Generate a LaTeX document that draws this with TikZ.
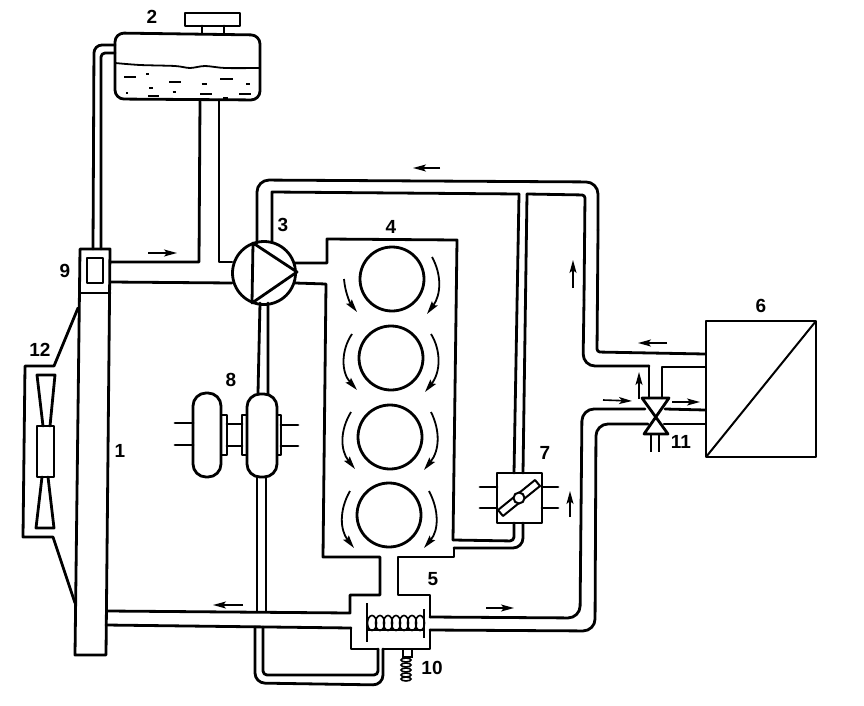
\documentclass[tikz,border=0pt]{standalone}
\usepackage{fontspec}
\setmainfont{Liberation Sans}
\usetikzlibrary{arrows.meta}
\tikzset{
  ln/.style={line width=2.8pt,line join=round,line cap=round},
  thin ln/.style={line width=2pt,line join=miter},
  flow/.style={line width=1.6pt,-{Stealth[length=13pt,width=7pt,inset=3pt]}},
  swirl/.style={line width=1.8pt,-{Stealth[length=13pt,width=7pt,inset=2pt]}},
  dashw/.style={line width=1.8pt},
  lbl/.style={font=\bfseries\fontsize{19}{19}\selectfont,inner sep=0pt}
}
\begin{document}
\begin{tikzpicture}[x=1pt,y=-1pt]
\useasboundingbox (0,0) rectangle (864,706);
% tank
\draw[ln,rounded corners=9pt] (115,33) -- (260,35) -- (260,100) -- (115,99) -- cycle;
\draw[ln] (185,13) rectangle (240,26);
\draw[ln] (202,26) -- (202,33) (224,26) -- (224,34);
\draw[line width=1.8pt] plot[smooth] coordinates {(115,63) (140,65) (175,66) (190,68) (205,66) (225,68) (260,68)};
\foreach \a/\b/\c in {192/228/232,258/268/222,328/362/245,425/440/252,480/518/237,558/570/252,268/278/263,198/205/278,265/297/287,338/348/276,420/455/281,490/503/294,538/572/281}
  \draw[dashw] ({60+\a/3},{\c/3}) -- ({60+\b/3},{\c/3});
% pipe tank to 9
\draw[ln,rounded corners=8pt] (93,249) -- (94,45) -- (115,45);
\draw[ln,rounded corners=4pt] (101,249) -- (101,53) -- (115,53);
% tank to pump and radiator outlet
\draw[ln] (200,100) -- (199,262) -- (110,262);
\draw[ln] (219,100) -- (219,262) -- (232,262);
\draw[ln] (110,282) -- (232,283);
% radiator and sensor 9
\draw[ln] (80,249) -- (110,249) -- (106,655) -- (75,655) -- cycle;
\draw[ln] (80,293) -- (110,293);
\draw[ln] (87,258) rectangle (103,283);
% pump
\node[circle,draw,line width=2.8pt,minimum size=63pt,inner sep=0pt] (pump) at (264,273) {};
\draw[ln] (253,243) -- (297,272) -- (252,303) -- cycle;
% top return pipe
\draw[ln,rounded corners=12pt] (257,243) -- (257,180) -- (598,182) -- (598,230);
\draw[ln,rounded corners=3pt] (598,230) -- (597,352) -- (705,354);
\draw[ln] (272,242) -- (272,192) -- (519,194);
\draw[ln,rounded corners=3pt] (527,194) -- (585,195) -- (584,300);
\draw[ln,rounded corners=12pt] (584,300) -- (583,366) -- (649,366);
\draw[ln] (649,366) -- (649,398) (662,398) -- (662,367) -- (705,367);
\draw[ln] (519,194) -- (514,473) (527,194) -- (523,473);
% valve 11
\draw[ln] (642,398) -- (669,398) -- (644,434) -- (668,434) -- cycle;
\draw[thin ln] (651,434) -- (651,452) (659,434) -- (659,452);
% pipe 5 to 6
\draw[ln,rounded corners=12pt] (430,617) -- (580,618) -- (582,409) -- (645,409);
\draw[ln] (665,409) -- (705,410);
\draw[ln,rounded corners=12pt] (430,630) -- (595,631) -- (596,424) -- (648,424);
\draw[ln] (664,424) -- (705,424);
% box 6
\draw[ln] (706,321) rectangle (816,457);
\draw[thin ln] (706,457) -- (816,321);
% engine block and thermostat housing
\draw[ln] (295,263) -- (327,263) -- (327,239) -- (457,240) -- (453,540);
\draw[ln,rounded corners=4pt] (453,540) -- (514,541) -- (514,523);
\draw[ln] (295,283) -- (326,284) -- (323,557) -- (380,557) -- (380,595) -- (350,595) -- (350,613) -- (108,611);
\draw[ln] (351,628) -- (106,625);
\draw[ln] (351,628) -- (351,649) -- (378,649);
\draw[ln] (430,617) -- (430,595) -- (398,595) -- (398,557) -- (454,557) -- (454,548);
\draw[ln,rounded corners=10pt] (454,548) -- (523,548) -- (523,523);
\draw[ln] (430,630) -- (430,649) -- (383,649);
% bypass loop
\draw[ln,rounded corners=4pt] (378,649) -- (378,675) -- (263,675) -- (263,627);
\draw[ln,rounded corners=10pt] (383,649) -- (383,685) -- (255,683) -- (255,627);
% pipe pump to coupling, coupling to 5
\draw[ln] (260,303) -- (258,393) (268,303) -- (268,394);
\draw[ln] (257,477) -- (257,611) (266,477) -- (266,611);
% coupling 8
\draw[ln,rounded corners=13pt] (193,393) rectangle (221,477);
\draw[ln,rounded corners=13pt] (247,394) rectangle (277,477);
\draw[ln] (175,423) -- (193,423) (175,445) -- (193,445);
\draw[ln] (221,415) rectangle (227,455);
\draw[ln] (242,415) rectangle (247,455);
\draw[ln] (227,424) -- (242,424) (227,446) -- (242,446);
\draw[ln] (277,415) rectangle (281,455);
\draw[ln] (281,425) -- (298,425) (281,446) -- (298,446);
% fan 12
\draw[ln] (78,308) -- (54,366) -- (25,366) -- (23,537) -- (53,537) -- (75,603);
\draw[ln] (37,426) rectangle (54,477);
\draw[ln] (43,426) -- (37,375) -- (55,375) -- (50,426);
\draw[ln] (42,477) -- (36,528) -- (54,528) -- (48,477);
% thermostat 7
\draw[ln] (497,473) rectangle (542,523);
\draw[ln] (480,487) -- (497,487) (480,508) -- (497,508) (542,487) -- (558,487) (542,508) -- (558,508);
\draw[line width=2pt,line join=round] (498,510) -- (503,516) -- (540,486) -- (535,480) -- cycle;
\node[circle,draw,fill=white,line width=2pt,minimum size=11pt,inner sep=0pt] (flap) at (519,498) {};
% cylinders
\foreach \n/\x/\y in {a/392/279,b/391/358,c/390/437,d/389/515}
  \node[circle,draw,line width=2.8pt,minimum size=64pt,inner sep=0pt] (cyl\n) at (\x,\y) {};
% swirl arrows
\draw[swirl] (344,279) .. controls (345,292) and (350,303) .. (357,312);
\draw[swirl] (432,257) .. controls (442,275) and (441,295) .. (427,314);
\draw[swirl] (352,334) .. controls (341,350) and (341,372) .. (357,390);
\draw[swirl] (431,334) .. controls (441,350) and (441,372) .. (425,392);
\draw[swirl] (351,412) .. controls (340,430) and (340,450) .. (355,469);
\draw[swirl] (431,412) .. controls (440,430) and (440,450) .. (424,470);
\draw[swirl] (350,491) .. controls (339,510) and (340,530) .. (354,548);
\draw[swirl] (429,491) .. controls (439,510) and (439,530) .. (424,548);
% coil in 5
\draw[line width=1.6pt] (367,603) -- (367,642) (424,609) -- (424,638);
\draw[line width=1.4pt] (367,630) -- (424,630);
\foreach \x in {372,380,388,396,404,412,420}
  \draw[line width=1.6pt] (\x,623) ellipse (4.5pt and 7.5pt);
% sensor 10
\draw[line width=1.6pt] (403,649) rectangle (412,657);
\foreach \y in {660,665,670,675,679}
  \draw[line width=1.6pt] (406,\y) ellipse (5pt and 2pt);
% flow arrows
\draw[flow] (148,253) -- (177,253);
\draw[flow] (440,168) -- (413,168);
\draw[flow] (243,605) -- (213,605);
\draw[flow] (486,608) -- (514,608);
\draw[flow] (573,288) -- (573,260);
\draw[flow] (570,517) -- (570,491);
\draw[flow] (667,343) -- (638,343);
\draw[flow] (603,400) -- (632,401);
\draw[flow] (672,402) -- (700,402);
\draw[flow] (639,399) -- (639,372);
% labels
\node[lbl] (l1) at (120,451) {1};
\node[lbl] (l2) at (152,17) {2};
\node[lbl] (l3) at (283,225) {3};
\node[lbl] (l4) at (391,227) {4};
\node[lbl] (l5) at (433,579) {5};
\node[lbl] (l6) at (761,306) {6};
\node[lbl] (l7) at (545,453) {7};
\node[lbl] (l8) at (231,380) {8};
\node[lbl] (l9) at (65,271) {9};
\node[lbl] (l10) at (432,668) {10};
\node[lbl] (l11) at (681,442) {11};
\node[lbl] (l12) at (40,350) {12};
\end{tikzpicture}
\end{document}
